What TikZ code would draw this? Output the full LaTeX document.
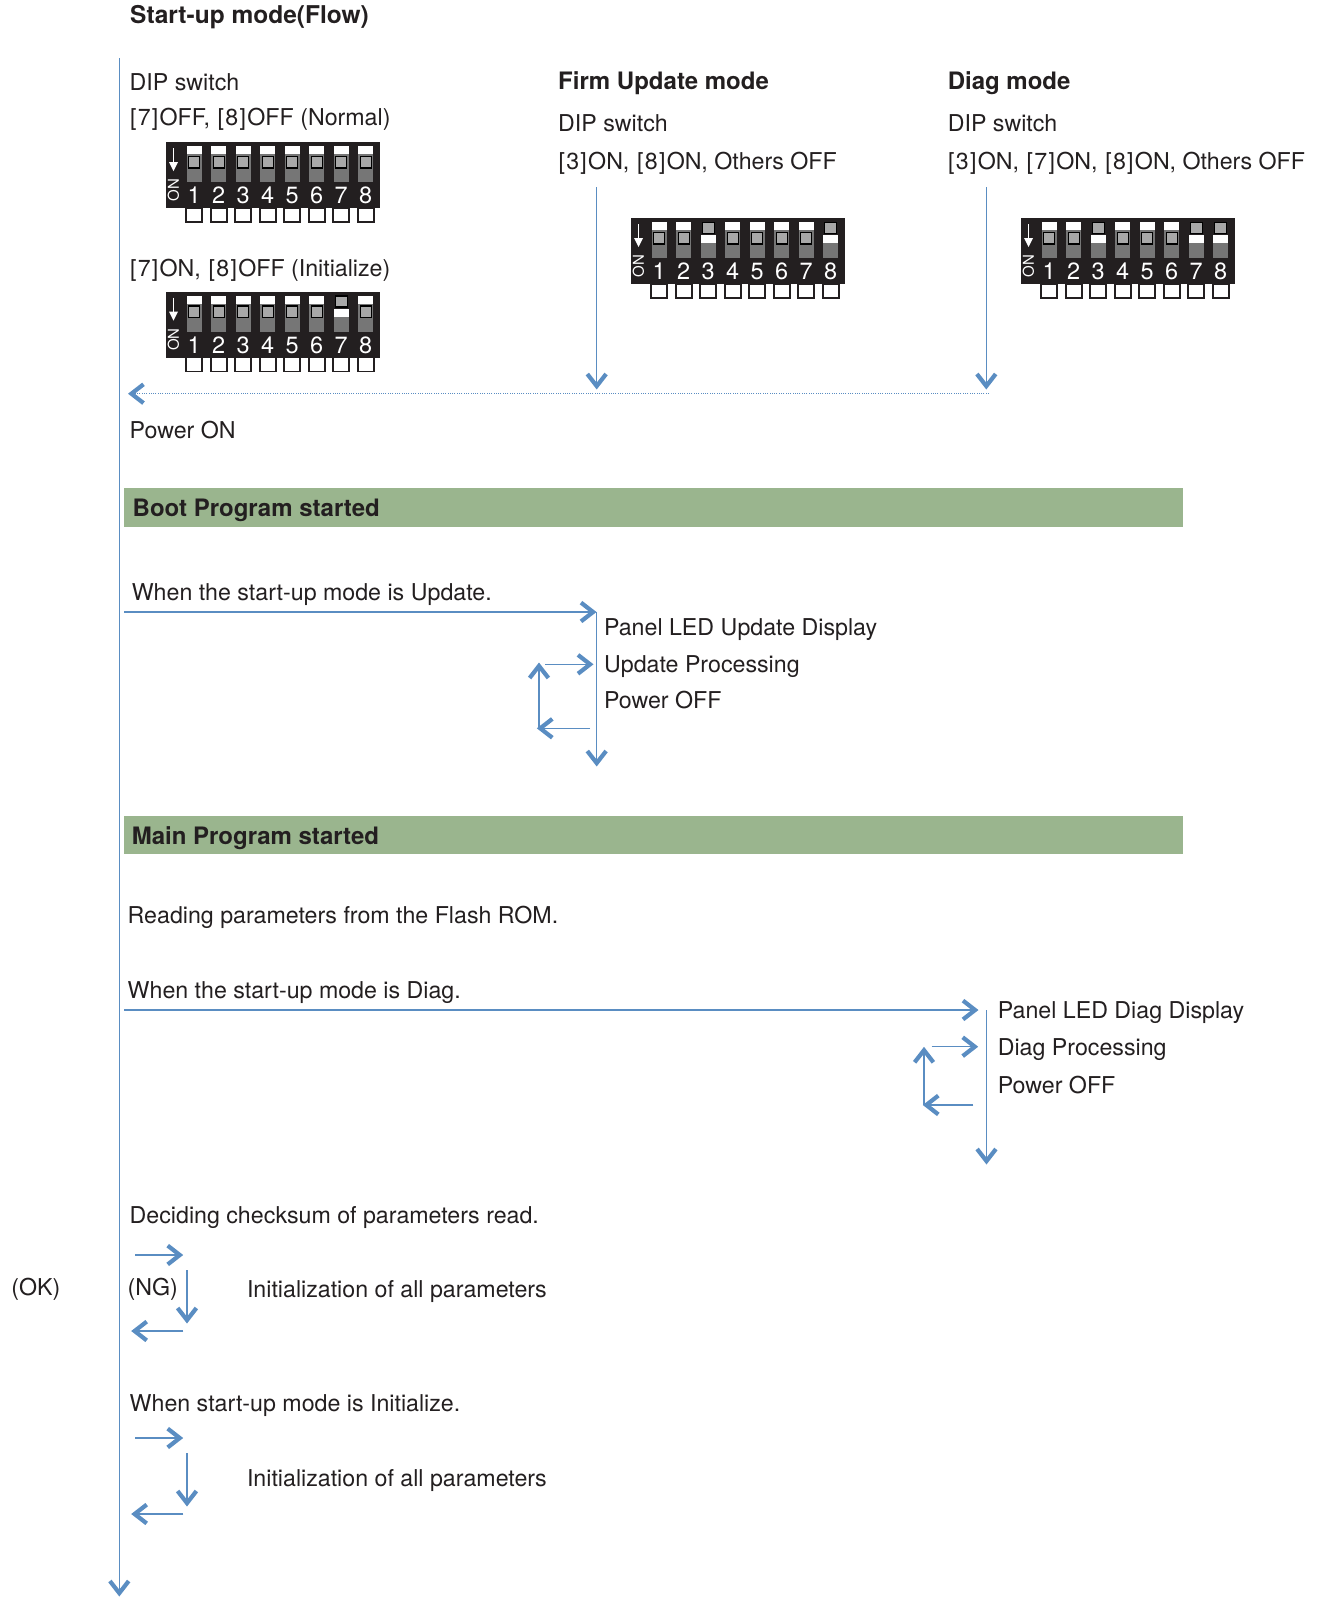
\documentclass[tikz,border=0pt]{standalone}
\usepackage{fontspec}
\setmainfont{TeX Gyre Heros}

\definecolor{flow}{HTML}{5A8DC2}
\definecolor{stage}{HTML}{9AB58E}
\definecolor{ink}{HTML}{231F20}
\definecolor{slot}{HTML}{767676}
\definecolor{knob}{HTML}{A8A8A8}

% switch number in brackets, set a little wider
\newcommand\sw[1]{\kern1.3pt[\kern1.3pt#1\kern1.3pt]\kern1.3pt}

\tikzset{
  txt/.style={anchor=base west, inner sep=0pt, text=ink, font=\fontsize{23.2}{28}\selectfont},
  bold/.style={txt, font=\fontsize{24}{28}\selectfont\bfseries},
  flowline/.style={draw=flow, line width=1.4pt},
  dotline/.style={draw=flow, line width=1.4pt, dash pattern=on 1pt off 1.3pt},
  stagebar/.style={fill=stage, draw=none},
  % open chevron head placed at the end of a connector
  chev/.pic={\fill[flow] (1.5,0) -- (-12.7,-11.05) -- (-15.3,-7.74) -- (-5.33,0)
                         -- (-15.3,7.74) -- (-12.7,11.05) -- cycle;},
  head/.style={pos=1, sloped, allow upside down},
}

% 8-way DIP switch: #1 name prefix, #2 top-left corner, #3 states of switches 1..8 (1 = ON)
\newcommand\dipswitch[3]{%
  \begin{scope}[shift={#2}]
    \fill[ink] (0,0) rectangle (214,66);
    \foreach \s [count=\i] in {#3} {
      \pgfmathsetmacro\cx{28.2+(\i-1)*24.5}
      \draw[ink, line width=1.8pt, fill=white] (\cx-8,66) rectangle (\cx+8,80);
      \ifnum\s=1
        \fill[slot] (\cx-7.5,25) rectangle (\cx+7.5,40);
        \fill[white] (\cx-7.5,17) rectangle (\cx+7.5,25);
        \draw[black, line width=1.4pt, fill=knob] (\cx-6,4.5) rectangle (\cx+6,15.5);
      \else
        \fill[white] (\cx-7.5,4) rectangle (\cx+7.5,12);
        \fill[slot] (\cx-7.5,12) rectangle (\cx+7.5,40);
        \draw[black, line width=1.4pt, fill=knob] (\cx-5.5,14.5) rectangle (\cx+5.5,26);
      \fi
      \node[font=\fontsize{23.5}{26}\selectfont, text=white, anchor=base, inner sep=0pt]
        (#1-n\i) at (\cx,61.5) {\i};
    }
    \node[rotate=90, font=\fontsize{15}{17}\selectfont, text=white, inner sep=0pt]
      (#1-on) at (7.5,48) {ON};
    \draw[white, line width=1.6pt] (7.5,6) -- (7.5,22);
    \fill[white] (3,20) -- (12,20) -- (7.5,29) -- cycle;
  \end{scope}%
}

\begin{document}
\begin{tikzpicture}[x=1pt, y=-1pt]
  \useasboundingbox (0,0) rectangle (1323,1599);

  % ---------- heading and switch settings ----------
  \node[bold, font=\fontsize{24.5}{28}\selectfont\bfseries] (title) at (130,23.5) {Start-up mode(Flow)};

  \node[txt] (dipA) at (129.5,90) {DIP switch};
  \node[txt] (normal) at (128.5,125.5) {\sw{7}OFF, \sw{8}OFF (Normal)};
  \dipswitch{swnormal}{(166,142)}{0,0,0,0,0,0,0,0}
  \node[txt] (initset) at (128.5,276) {\sw{7}ON, \sw{8}OFF (Initialize)};
  \dipswitch{swinit}{(166,291.5)}{0,0,0,0,0,0,1,0}

  \node[bold] (firm) at (558,89.6) {Firm Update mode};
  \node[txt] (dipB) at (558,131.4) {DIP switch};
  \node[txt] (firmset) at (557,169) {\sw{3}ON, \sw{8}ON, Others OFF};
  \dipswitch{swfirm}{(631,218)}{0,0,1,0,0,0,0,1}

  \node[bold] (diag) at (947.6,89.6) {Diag mode};
  \node[txt] (dipC) at (947.6,131.4) {DIP switch};
  \node[txt] (diagset) at (946.6,169) {\sw{3}ON, \sw{7}ON, \sw{8}ON, Others OFF};
  \dipswitch{swdiag}{(1021,218)}{0,0,1,0,0,0,1,1}

  % ---------- main time line ----------
  \coordinate (lineTop) at (119.3,58.3);
  \coordinate (lineEnd) at (119.3,1595);
  \draw[flowline] (lineTop) -- (lineEnd) pic[head]{chev};

  % mode selection feeding the power-on point
  \coordinate (firmTop) at (596.7,187);
  \coordinate (firmEnd) at (596.7,388);
  \coordinate (diagTop) at (986.3,187);
  \coordinate (diagEnd) at (986.3,388);
  \coordinate (powerFrom) at (989,393.7);
  \coordinate (powerTo) at (129.5,393.7);
  \draw[flowline] (firmTop) -- (firmEnd) pic[head]{chev};
  \draw[flowline] (diagTop) -- (diagEnd) pic[head]{chev};
  \draw[dotline] (powerFrom) -- (powerTo) pic[head]{chev};

  \node[txt] (poweron) at (129.5,438.4) {Power ON};

  % ---------- boot program ----------
  \fill[stagebar] (124.4,488.3) rectangle (1183.3,526.7);
  \node[bold] (boot) at (132.5,516.7) {Boot Program started};

  \node[txt] (upd) at (131.6,600.6) {When the start-up mode is Update.};
  \coordinate (updFrom) at (124.4,612);
  \coordinate (updTo) at (595,612);
  \draw[flowline] (updFrom) -- (updTo) pic[head]{chev};

  \coordinate (updTop) at (596.7,612);
  \coordinate (updEnd) at (596.7,765);
  \draw[flowline] (updTop) -- (updEnd) pic[head]{chev};

  \node[txt] (u1) at (603.8,635) {Panel LED Update Display};
  \node[txt] (u2) at (603.8,672) {Update Processing};
  \node[txt] (u3) at (603.8,708.5) {Power OFF};

  \coordinate (uA) at (545,664.3);
  \coordinate (uB) at (592,664.3);
  \coordinate (uC) at (590,728.3);
  \coordinate (uD) at (538.3,728.3);
  \coordinate (uE) at (539,728.3);
  \coordinate (uF) at (539,664);
  \draw[flowline] (uA) -- (uB) pic[head]{chev};
  \draw[flowline] (uC) -- (uD) pic[head]{chev};
  \draw[flowline] (uE) -- (uF) pic[head]{chev};

  % ---------- main program ----------
  \fill[stagebar] (124.4,816) rectangle (1183.3,853.7);
  \node[bold] (main) at (131.6,844.4) {Main Program started};

  \node[txt] (read) at (127.5,923) {Reading parameters from the Flash ROM.};

  \node[txt] (dg) at (127.5,998.4) {When the start-up mode is Diag.};
  \coordinate (dgFrom) at (124.4,1010);
  \coordinate (dgTo) at (977,1010);
  \draw[flowline] (dgFrom) -- (dgTo) pic[head]{chev};

  \coordinate (dgTop) at (986.5,1010);
  \coordinate (dgEnd) at (986.5,1163);
  \draw[flowline] (dgTop) -- (dgEnd) pic[head]{chev};

  \node[txt] (d1) at (997.6,1018) {Panel LED Diag Display};
  \node[txt] (d2) at (997.6,1055.5) {Diag Processing};
  \node[txt] (d3) at (997.6,1093) {Power OFF};

  \coordinate (dA) at (931.7,1046.7);
  \coordinate (dB) at (976.7,1046.7);
  \coordinate (dC) at (973.3,1105);
  \coordinate (dD) at (924.3,1105);
  \coordinate (dE) at (924,1105);
  \coordinate (dF) at (924,1048.3);
  \draw[flowline] (dA) -- (dB) pic[head]{chev};
  \draw[flowline] (dC) -- (dD) pic[head]{chev};
  \draw[flowline] (dE) -- (dF) pic[head]{chev};

  % ---------- checksum ----------
  \node[txt] (check) at (129.5,1223.8) {Deciding checksum of parameters read.};
  \node[txt] (ok) at (11.2,1295) {(OK)};
  \node[txt] (ng) at (127.5,1295) {(NG)};
  \node[txt] (ini1) at (246.8,1297) {Initialization of all parameters};

  \coordinate (nA) at (135,1255);
  \coordinate (nB) at (181.7,1255);
  \coordinate (nC) at (187,1270);
  \coordinate (nD) at (187,1322);
  \coordinate (nE) at (183.3,1331);
  \coordinate (nF) at (132.7,1331);
  \draw[flowline] (nA) -- (nB) pic[head]{chev};
  \draw[flowline] (nC) -- (nD) pic[head]{chev};
  \draw[flowline] (nE) -- (nF) pic[head]{chev};

  % ---------- initialize mode ----------
  \node[txt] (whenini) at (129.5,1411.5) {When start-up mode is Initialize.};
  \node[txt] (ini2) at (246.8,1486) {Initialization of all parameters};

  \coordinate (iA) at (135,1438);
  \coordinate (iB) at (181.7,1438);
  \coordinate (iC) at (187,1453);
  \coordinate (iD) at (187,1505);
  \coordinate (iE) at (183.3,1514);
  \coordinate (iF) at (132.7,1514);
  \draw[flowline] (iA) -- (iB) pic[head]{chev};
  \draw[flowline] (iC) -- (iD) pic[head]{chev};
  \draw[flowline] (iE) -- (iF) pic[head]{chev};
\end{tikzpicture}
\end{document}
